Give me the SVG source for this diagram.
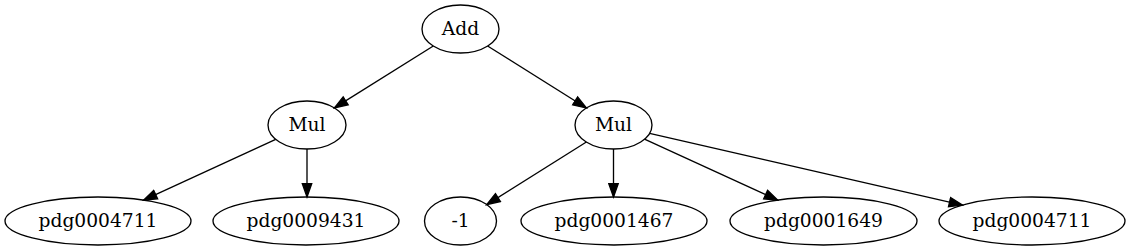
<svg xmlns="http://www.w3.org/2000/svg" width="1131" height="251" viewBox="0 0 1131 251">
<style>
.n ellipse{fill:none;stroke:#000;stroke-width:1.33}
.n text{font-family:"DejaVu Serif",serif;font-size:18.67px;text-anchor:middle;fill:#000}
.e line{stroke:#000;stroke-width:1.33;marker-end:url(#arr)}
</style>
<defs>
<marker id="arr" markerUnits="userSpaceOnUse" markerWidth="16" markerHeight="12" viewBox="-1 -6 16 12" refX="13.3" refY="0" orient="auto">
<path d="M0,-4.7 L13.3,0 L0,4.7 z" fill="#000" stroke="#000" stroke-width="1.33"/>
</marker>
</defs>
<rect width="1131" height="251" fill="#fff"/>
<g class="e" id="edges">
<line x1="433.3" y1="46" x2="334.4" y2="107.9"/>
<line x1="487.6" y1="46" x2="586.4" y2="108"/>
<line x1="275.7" y1="139.4" x2="143.6" y2="200.1"/>
<line x1="307" y1="149" x2="307" y2="197"/>
<line x1="586.4" y1="142" x2="486.7" y2="204.6"/>
<line x1="613.5" y1="149" x2="613.5" y2="197"/>
<line x1="644.5" y1="139.2" x2="777.7" y2="200.1"/>
<line x1="649.6" y1="133.3" x2="962.5" y2="205.1"/>
</g>
<g class="n" id="add"><ellipse cx="460.5" cy="29" rx="38.5" ry="24"/><text x="460.5" y="35">Add</text></g>
<g class="n" id="mul1"><ellipse cx="307" cy="125" rx="39" ry="24"/><text x="307" y="131">Mul</text></g>
<g class="n" id="mul2"><ellipse cx="613.5" cy="125" rx="38.5" ry="24"/><text x="613.5" y="131">Mul</text></g>
<g class="n" id="pdg0004711a"><ellipse cx="98" cy="221" rx="93" ry="24"/><text x="98" y="227">pdg0004711</text></g>
<g class="n" id="pdg0009431"><ellipse cx="306" cy="221" rx="93" ry="24"/><text x="306" y="227">pdg0009431</text></g>
<g class="n" id="neg1"><ellipse cx="460.5" cy="221" rx="36" ry="24"/><text x="460.5" y="227">-1</text></g>
<g class="n" id="pdg0001467"><ellipse cx="614" cy="221" rx="93" ry="24"/><text x="614" y="227">pdg0001467</text></g>
<g class="n" id="pdg0001649"><ellipse cx="823.5" cy="221" rx="93.5" ry="24"/><text x="823.5" y="227">pdg0001649</text></g>
<g class="n" id="pdg0004711b"><ellipse cx="1032" cy="221" rx="93" ry="24"/><text x="1032" y="227">pdg0004711</text></g>
</svg>
